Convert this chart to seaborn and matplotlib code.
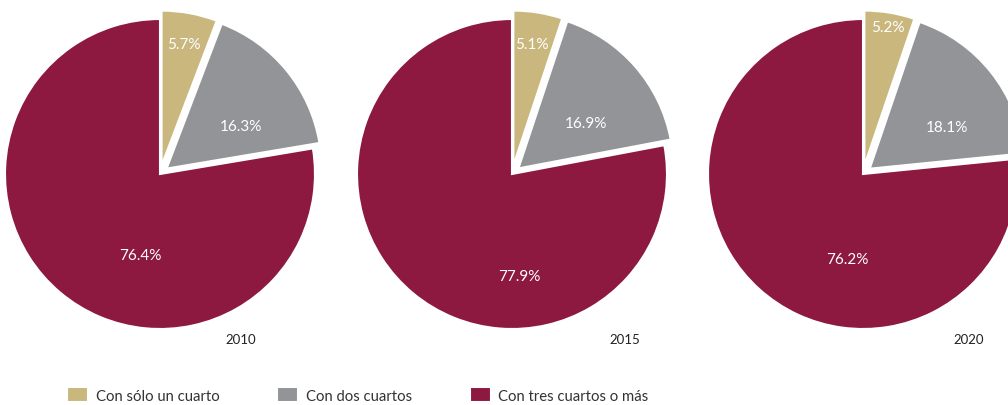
import matplotlib
matplotlib.use('Agg')
import matplotlib.pyplot as plt
import seaborn as sns

# data
years = ['2010', '2015', '2020']
categories = ['Con sólo un cuarto', 'Con dos cuartos', 'Con tres cuartos o más']
uno = [5.7, 5.1, 5.2]
dos = [16.3, 16.9, 18.1]
tres = [76.4, 77.9, 76.2]

colors = ['#C9B77D', '#939498', '#8D1940']

sns.set_theme(style='white')
plt.rcParams['font.family'] = ['Lato', 'DejaVu Sans']

W, H = 1008, 406
fig = plt.figure(figsize=(W / 100, H / 100), dpi=100)

centers_px = [160, 512, 863]   # pie centres (x, px)
cy_px = 175
radius_px = 155
half_px = 180
lim = half_px / radius_px

# label placement per pie (x, y in pie-radius units), style only
pct_pos = [
    [(0.155, 0.84), (0.52, 0.31), (-0.13, -0.52)],
    [(0.13, 0.84), (0.48, 0.33), (0.05, -0.66)],
    [(0.16, 0.95), (0.54, 0.30), (-0.10, -0.55)],
]
year_pos = [(0.52, -1.065), (0.73, -1.065), (0.68, -1.065)]

wedges_first = None
for i, yr in enumerate(years):
    cx = centers_px[i]
    ax = fig.add_axes([(cx - half_px) / W, (H - cy_px - half_px) / H,
                       2 * half_px / W, 2 * half_px / H])
    vals = [uno[i], dos[i], tres[i]]
    wedges, _ = ax.pie(vals, colors=colors, startangle=90, counterclock=False,
                       explode=[0.055, 0.055, 0],
                       wedgeprops=dict(edgecolor='white', linewidth=1.5))
    if wedges_first is None:
        wedges_first = wedges
    for v, (tx, ty) in zip(vals, pct_pos[i]):
        ax.text(tx, ty, f'{v:.1f}%', color='white', fontsize=11,
                ha='center', va='center')
    ax.text(year_pos[i][0], year_pos[i][1], yr, fontsize=9.5, color='#222222',
            ha='center', va='center')
    ax.set_xlim(-lim, lim)
    ax.set_ylim(-lim, lim)
    ax.set_aspect('equal')
    ax.axis('off')

fig.legend(wedges_first, categories, loc='center', bbox_to_anchor=(0.355, 1 - 396 / H),
           ncol=3, frameon=False, fontsize=10.7, handlelength=1.4, handleheight=1.1,
           handletextpad=0.5, columnspacing=3.9, labelcolor='#333333')

fig.savefig('out.png', dpi=100, facecolor='white')
